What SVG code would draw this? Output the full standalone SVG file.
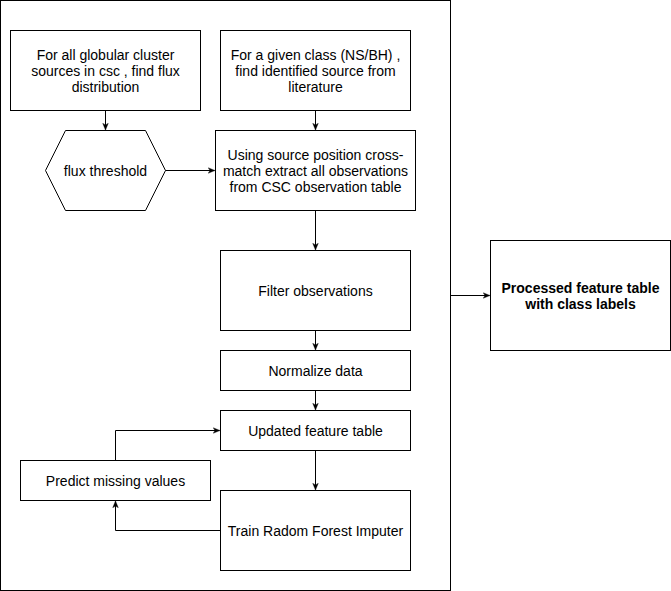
<svg xmlns="http://www.w3.org/2000/svg" width="671" height="591" viewBox="0 0 671 591">
  <style>
    .box { fill: #ffffff; stroke: #000000; stroke-width: 1; }
    .edge { fill: none; stroke: #000000; stroke-width: 1; }
    text { font-family: "Liberation Sans", Arial, sans-serif; font-size: 14px; fill: #000000; text-anchor: middle; }
    .bold { font-weight: bold; }
  </style>
  <defs>
    <marker id="arrow" viewBox="0 0 10 10" refX="9" refY="5" markerWidth="7" markerHeight="7" orient="auto" markerUnits="userSpaceOnUse">
      <path d="M0,1 L10,5 L0,9 L2.5,5 Z" fill="#000000" stroke="#000000" stroke-width="0.5"/>
    </marker>
  </defs>
  <rect x="0" y="0" width="671" height="591" fill="#ffffff"/>

  <!-- enclosing pipeline frame -->
  <g id="frame">
    <rect class="box" x="0.5" y="0.5" width="450" height="590"/>
  </g>

  <g id="flux-distribution">
    <rect class="box" x="10.5" y="30.5" width="190" height="80"/>
    <text x="105.5" y="60">For all globular cluster</text>
    <text x="105.5" y="76">sources in csc , find flux</text>
    <text x="105.5" y="92">distribution</text>
  </g>

  <g id="identified-source">
    <rect class="box" x="220.5" y="30.5" width="190" height="80"/>
    <text x="315.5" y="60">For a given class (NS/BH) ,</text>
    <text x="315.5" y="76">find identified source from</text>
    <text x="315.5" y="92">literature</text>
  </g>

  <g id="flux-threshold">
    <polygon class="box" points="65.5,130.5 145.5,130.5 165.5,170.5 145.5,210.5 65.5,210.5 45.5,170.5"/>
    <text x="105.5" y="176">flux threshold</text>
  </g>

  <g id="cross-match">
    <rect class="box" x="215.5" y="130.5" width="200" height="80"/>
    <text x="315.5" y="160">Using source position cross-</text>
    <text x="315.5" y="176">match extract all observations</text>
    <text x="315.5" y="192">from CSC observation table</text>
  </g>

  <g id="filter">
    <rect class="box" x="220.5" y="250.5" width="190" height="80"/>
    <text x="315.5" y="296">Filter observations</text>
  </g>

  <g id="normalize">
    <rect class="box" x="220.5" y="350.5" width="190" height="40"/>
    <text x="315.5" y="376">Normalize data</text>
  </g>

  <g id="updated-table">
    <rect class="box" x="220.5" y="410.5" width="190" height="40"/>
    <text x="315.5" y="436">Updated feature table</text>
  </g>

  <g id="predict">
    <rect class="box" x="20.5" y="460.5" width="190" height="40"/>
    <text x="115.5" y="486">Predict missing values</text>
  </g>

  <g id="train-imputer">
    <rect class="box" x="220.5" y="490.5" width="190" height="80"/>
    <text x="315.5" y="536">Train Radom Forest Imputer</text>
  </g>

  <g id="processed-table">
    <rect class="box" x="490.5" y="240.5" width="180" height="110"/>
    <text class="bold" x="580.5" y="293">Processed feature table</text>
    <text class="bold" x="580.5" y="309">with class labels</text>
  </g>

  <!-- connectors -->
  <g id="connectors">
    <path class="edge" d="M105.5,110.5 V129.5" marker-end="url(#arrow)"/>
    <path class="edge" d="M315.5,110.5 V129.5" marker-end="url(#arrow)"/>
    <path class="edge" d="M165.5,170.5 H214.5" marker-end="url(#arrow)"/>
    <path class="edge" d="M315.5,210.5 V249.5" marker-end="url(#arrow)"/>
    <path class="edge" d="M315.5,330.5 V349.5" marker-end="url(#arrow)"/>
    <path class="edge" d="M315.5,390.5 V409.5" marker-end="url(#arrow)"/>
    <path class="edge" d="M315.5,450.5 V489.5" marker-end="url(#arrow)"/>
    <path class="edge" d="M220.5,530.5 H115.5 V501.5" marker-end="url(#arrow)"/>
    <path class="edge" d="M115.5,460.5 V430.5 H219.5" marker-end="url(#arrow)"/>
    <path class="edge" d="M450.5,295.5 H489.5" marker-end="url(#arrow)"/>
  </g>
</svg>
